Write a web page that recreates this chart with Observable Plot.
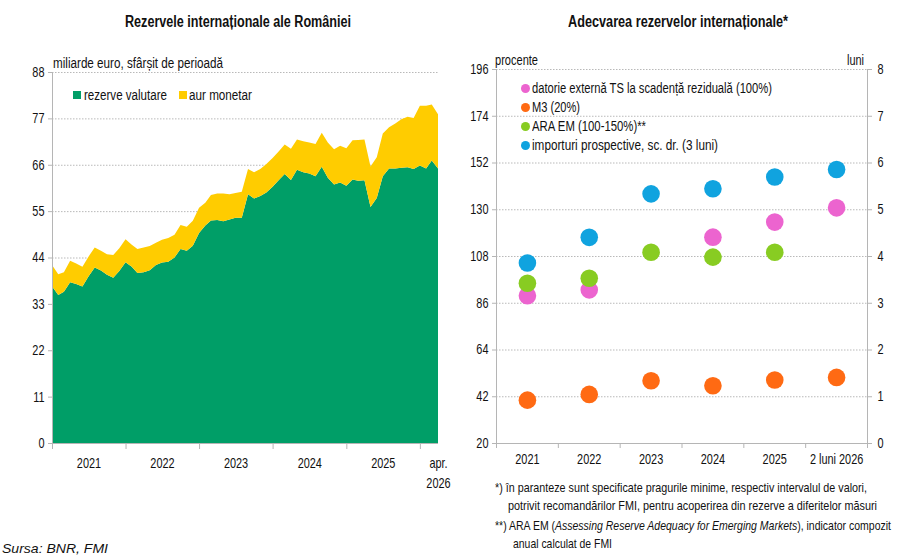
<!DOCTYPE html>
<html><head><meta charset="utf-8">
<script src="https://cdn.jsdelivr.net/npm/d3@7"></script>
<script src="https://cdn.jsdelivr.net/npm/@observablehq/plot@0.6"></script>
<style>
body{margin:0;background:#fff;}
#wrap{position:relative;width:900px;height:559px;overflow:hidden;background:#fff;font-family:"Liberation Sans",Arial,sans-serif;color:#111;}
.abs{position:absolute;white-space:nowrap;line-height:1;transform-origin:0 50%;}
.title{font-weight:bold;font-size:16px;}
.lab{font-size:14px;}
.note{font-size:13.5px;}
.sw{position:absolute;width:8px;height:8px;}
.dot{position:absolute;width:9px;height:9px;border-radius:50%;}
#left,#right{position:absolute;top:0;}
#left{left:0;} #right{left:460px;}
</style></head><body><div id="wrap">
<div id="left"></div><div id="right"></div>
</div>
<script>
// ---- Left chart: Rezervele internaționale ale României (mld. euro, lunar ian. 2021 – apr. 2026)
const startYear = 2021;
const rezerveValutare = [37.2,35.1,35.9,38.1,37.7,37.1,39.5,41.6,40.9,39.9,39.2,40.8,
  42.9,41.8,40.3,40.5,41.0,42.2,42.8,43.0,44.0,46.0,45.6,46.8,
  49.8,51.6,52.8,52.9,52.6,53.0,53.4,53.4,59.0,58.0,58.6,59.4,
  60.8,62.4,63.8,62.4,64.8,64.2,63.9,63.3,65.5,62.9,61.3,61.8,
  61.0,62.5,62.2,62.3,56.0,58.1,63.3,65.1,65.1,65.3,65.4,65.0,
  65.8,65.1,67.0,65.1];
const aurMonetar = [5.0,4.9,4.6,5.1,4.9,4.7,4.7,4.8,4.7,4.9,5.4,5.4,
  5.4,5.2,5.7,5.9,5.7,5.3,5.4,5.6,5.4,5.7,5.7,5.9,
  6.0,5.4,6.0,6.3,6.6,6.0,5.9,6.2,6.0,6.2,6.4,6.8,
  6.8,6.8,7.0,7.4,7.2,7.4,7.4,7.6,8.1,8.4,8.4,8.7,
  8.9,9.3,9.7,9.7,9.6,9.7,10.1,9.8,10.7,11.5,12.0,12.1,
  14.2,14.9,13.3,12.9];
const seriesNames = ["rezerve valutare","aur monetar"];
const seriesColors = ["#009e67","#ffcc00"];
const leftTicks = [0,11,22,33,44,55,66,77,88];
const yearLabels = ["2021","2022","2023","2024","2025"];
const lastLabel = "apr.\n2026";

// ---- Right chart: Adecvarea rezervelor internaționale
const categories = ["2021","2022","2023","2024","2025","2 luni 2026"];
const datorieExterna = [89.5,92.3,null,117.1,124.2,130.9];
const m3 = [40.4,43.1,49.5,47.2,49.9,51.1];
const araEm = [95.4,97.8,110.0,107.7,110.0,null];
const importuriLuni = [3.86,4.41,5.34,5.45,5.70,5.86];
const rightNames = ["datorie externă TS la scadență reziduală (100%)","M3 (20%)","ARA EM (100-150%)**","importuri prospective, sc. dr. (3 luni)"];
const rightColors = ["#ec64cf","#ff6a13","#88cc22","#10a3df"];
const leftPctTicks = [20,42,64,86,108,130,152,174,196];

const FONT = '"Liberation Sans",Arial,sans-serif';
const SQX = 0.78; // horizontal condensing of the chart's narrow typeface

// build left data
const month = i => new Date(Date.UTC(startYear, i, 1));
const longData = [];
rezerveValutare.forEach((v,i)=>longData.push({date:month(i), series:seriesNames[0], value:v}));
aurMonetar.forEach((v,i)=>longData.push({date:month(i), series:seriesNames[1], value:v}));
const n = rezerveValutare.length;
const x0 = month(0), x1 = month(n-1);
const yearStarts = yearLabels.map(y=>new Date(Date.UTC(+y,0,1))).concat([new Date(Date.UTC(2026,0,1))]);
const yearMids = yearLabels.map(y=>new Date(Date.UTC(+y,6,1)));
const labelDates = yearMids.concat([x1]);
const labelText = yearLabels.concat([lastLabel]);

const left = Plot.plot({
  width:460, height:500,
  marginLeft:52, marginRight:22, marginTop:72, marginBottom:57,
  style:{fontFamily:FONT, fontSize:"14px", color:"#111", background:"transparent"},
  x:{type:"utc", domain:[x0,x1]},
  y:{domain:[0,88]},
  color:{domain:seriesNames, range:seriesColors},
  marks:[
    Plot.gridY(leftTicks.filter(d=>d>0), {stroke:"#b9b9b9", strokeOpacity:1, strokeDasharray:"1.5,1.5"}),
    Plot.areaY(longData, {x:"date", y:"value", fill:"series", z:"series", order:seriesNames}),
    Plot.ruleX([x0], {stroke:"#b5b5b5"}),
    Plot.ruleY([0], {stroke:"#b5b5b5"}),
    Plot.axisY({ticks:leftTicks, tickSize:4, tickPadding:4, label:null, stroke:"#b5b5b5", fontSize:14}),
    Plot.axisX({ticks:[x0, ...yearStarts], tickSize:6, tickFormat:()=>"", label:null, stroke:"#b5b5b5"}),
    Plot.axisX({ticks:labelDates, tickSize:0, tickPadding:10, label:null, lineHeight:1.45, fontSize:14,
      tickFormat:(d)=>labelText[labelDates.findIndex(t=>+t===+d)]})
  ]
});
document.getElementById("left").appendChild(left);

// right chart
const idx = categories.map((c,i)=>i);
const toPct = m => 20 + 22*m; // secondary axis: 1 lună = 22 puncte pe axa stângă
const dotData = [];
datorieExterna.forEach((v,i)=>{ if(v!=null) dotData.push({i, s:0, v}); });
m3.forEach((v,i)=>{ if(v!=null) dotData.push({i, s:1, v}); });
araEm.forEach((v,i)=>{ if(v!=null) dotData.push({i, s:2, v}); });
importuriLuni.forEach((v,i)=>{ if(v!=null) dotData.push({i, s:3, v:toPct(v)}); });

const right = Plot.plot({
  width:440, height:470,
  marginLeft:36, marginRight:33, marginTop:69, marginBottom:27,
  style:{fontFamily:FONT, fontSize:"14px", color:"#111", background:"transparent"},
  x:{type:"linear", domain:[-0.5, categories.length-0.5]},
  y:{domain:[20,196]},
  marks:[
    Plot.gridY(leftPctTicks.filter(d=>d>20), {stroke:"#b9b9b9", strokeOpacity:1, strokeDasharray:"1.5,1.5"}),
    Plot.ruleX([-0.5, categories.length-0.5], {stroke:"#b5b5b5"}),
    Plot.ruleY([20], {stroke:"#b5b5b5"}),
    Plot.axisY({ticks:leftPctTicks, tickSize:4, tickPadding:4, label:null, stroke:"#b5b5b5", fontSize:14}),
    Plot.axisY({anchor:"right", ticks:leftPctTicks, tickSize:4, tickPadding:6, label:null, stroke:"#b5b5b5", fontSize:14,
      tickFormat:d=>String(Math.round((d-20)/22))}),
    Plot.axisX({ticks:d3.range(-0.5, categories.length), tickSize:5, tickFormat:()=>"", label:null, stroke:"#b5b5b5"}),
    Plot.axisX({ticks:idx, tickSize:0, tickPadding:11, label:null, fontSize:14, tickFormat:d=>categories[d]}),
    Plot.dot(dotData, {x:"i", y:"v", r:8.8, fill:d=>rightColors[d.s], stroke:"none"})
  ]
});
document.getElementById("right").appendChild(right);

// condense SVG texts horizontally around their anchor
[left, right].forEach(svg=>{
  svg.querySelectorAll("text").forEach(t=>{
    const tr = t.getAttribute("transform") || "";
    const xa = t.getAttribute("x"), ya = t.getAttribute("y");
    if (xa != null && !tr) {
      t.setAttribute("transform", `translate(${xa},0) scale(${SQX},1)`);
      t.setAttribute("x", 0);
    } else {
      t.setAttribute("transform", tr + ` scale(${SQX},1)`);
    }
  });
});

// HTML text, fitted to the reference widths
const wrap = document.getElementById("wrap");
function add(html, cls, x, y, w, center){
  const d = document.createElement("div");
  d.className = "abs " + cls;
  d.style.left = x+"px"; d.style.top = y+"px";
  d.innerHTML = html; wrap.appendChild(d);
  const nat = d.getBoundingClientRect().width;
  const s = w / nat;
  d.style.transform = `scaleX(${s})`;
  if (center) d.style.left = (x - w/2) + "px";
  return d;
}
add("Rezervele internaționale ale României","title",238,14,226,true);
add("Adecvarea rezervelor internaționale*","title",678,14,220,true);
add("miliarde euro, sfârșit de perioadă","lab",53,56,170);
const sw = (c,x,y)=>{const s=document.createElement("div");s.className="sw";s.style.background=c;s.style.left=x+"px";s.style.top=y+"px";wrap.appendChild(s);};
sw(seriesColors[0],73,91); sw(seriesColors[1],179,91);
add(seriesNames[0],"lab",84,88,83);
add(seriesNames[1],"lab",189,88,63);
add("procente","lab",495,53,43);
add("luni","lab",847,53,17);
const legY = [88,107,126,145];
const legW = [240,48,114,186];
rightNames.forEach((t,k)=>{
  const c = document.createElement("div");
  c.className="dot"; c.style.left="521px"; c.style.top=(legY[k]-4.5)+"px"; c.style.background=rightColors[k];
  wrap.appendChild(c);
  add(t,"lab",532,legY[k]-7,legW[k]);
});
add("*) în paranteze sunt specificate pragurile minime, respectiv intervalul de valori,","note",495,481,372);
add("potrivit recomandărilor FMI, pentru acoperirea din rezerve a diferitelor măsuri","note",508,499,369);
add("**) ARA EM (<i>Assessing Reserve Adequacy for Emerging Markets</i>), indicator compozit","note",495,519,396);
add("anual calculat de FMI","note",513,537,99);
add("<i>Sursa: BNR, FMI</i>","note",2,542,106);
</script>
</body></html>
